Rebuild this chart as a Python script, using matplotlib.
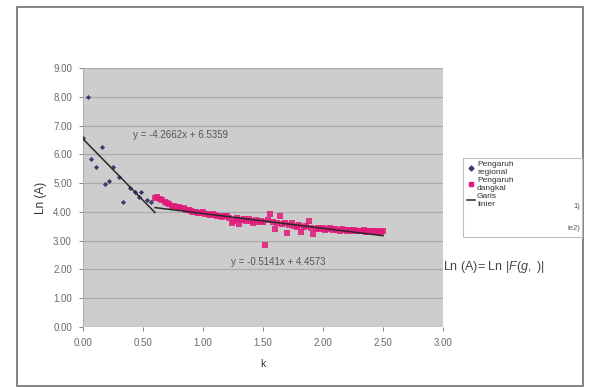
import matplotlib
matplotlib.use('Agg')
import matplotlib.pyplot as plt
from matplotlib.patches import Rectangle
from matplotlib.lines import Line2D
import numpy as np

plt.rcParams['font.family'] = ['Liberation Sans', 'DejaVu Sans']
plt.rcParams['mathtext.fontset'] = 'custom'
plt.rcParams['mathtext.rm'] = 'Liberation Sans'
plt.rcParams['mathtext.it'] = 'Liberation Sans:italic'

# --- data ---
regional_k = [0.00, 0.04, 0.07, 0.11, 0.16, 0.18, 0.22, 0.25, 0.30, 0.33,
              0.39, 0.43, 0.47, 0.48, 0.53, 0.57]
regional_ln = [6.58, 8.00, 5.84, 5.57, 6.27, 4.96, 5.07, 5.57, 5.20, 4.33,
               4.84, 4.70, 4.53, 4.68, 4.41, 4.35]

dangkal_k = [0.60, 0.62, 0.64, 0.66, 0.68, 0.70, 0.72, 0.74, 0.76, 0.78,
             0.80, 0.82, 0.84, 0.86, 0.88, 0.90, 0.92, 0.94, 0.96, 0.98,
             1.00, 1.02, 1.04, 1.06, 1.08, 1.10, 1.12, 1.14, 1.16, 1.18,
             1.20, 1.22, 1.24, 1.26, 1.28, 1.30, 1.32, 1.34, 1.36, 1.38,
             1.40, 1.42, 1.44, 1.46, 1.48, 1.50, 1.52, 1.54, 1.56, 1.58,
             1.60, 1.62, 1.64, 1.66, 1.68, 1.70, 1.72, 1.74, 1.76, 1.78,
             1.80, 1.82, 1.84, 1.86, 1.88, 1.90, 1.92, 1.94, 1.96, 1.98,
             2.00, 2.02, 2.04, 2.06, 2.08, 2.10, 2.12, 2.14, 2.16, 2.18,
             2.20, 2.22, 2.24, 2.26, 2.28, 2.30, 2.32, 2.34, 2.36, 2.38,
             2.40, 2.42, 2.44, 2.46, 2.48, 2.50]
dangkal_ln = [4.48, 4.52, 4.44, 4.40, 4.36, 4.30, 4.27, 4.22, 4.20, 4.18,
              4.16, 4.14, 4.12, 4.08, 4.05, 4.02, 3.98, 4.00, 3.97, 3.95,
              3.98, 3.94, 3.92, 3.90, 3.93, 3.88, 3.85, 3.87, 3.82, 3.84,
              3.86, 3.80, 3.62, 3.70, 3.78, 3.58, 3.72, 3.76, 3.68, 3.74,
              3.70, 3.60, 3.72, 3.66, 3.70, 3.64, 2.85, 3.72, 3.93, 3.66,
              3.39, 3.62, 3.87, 3.58, 3.62, 3.26, 3.55, 3.60, 3.52, 3.48,
              3.54, 3.31, 3.46, 3.50, 3.69, 3.44, 3.22, 3.42, 3.45, 3.40,
              3.43, 3.38, 3.41, 3.44, 3.36, 3.40, 3.38, 3.35, 3.39, 3.36,
              3.33, 3.37, 3.34, 3.36, 3.32, 3.35, 3.33, 3.36, 3.31, 3.34,
              3.32, 3.35, 3.30, 3.33, 3.31, 3.34]

# trend lines: slope, intercept, k range
trend1 = (-4.2662, 6.5359, 0.0, 0.60)
trend2 = (-0.5141, 4.4573, 0.60, 2.50)
trend_labels = ['y = -4.2662x + 6.5359', 'y = -0.5141x + 4.4573']

x_ticks = [0.0, 0.5, 1.0, 1.5, 2.0, 2.5, 3.0]
y_ticks = [0, 1, 2, 3, 4, 5, 6, 7, 8, 9]

W, H = 589, 387
fig = plt.figure(figsize=(W / 100, H / 100), dpi=100)
fig.patch.set_facecolor('white')

# outer chart frame
fig.patches.append(Rectangle((17 / W, 1 - 386 / H), 566 / W, 379 / H,
                             transform=fig.transFigure, fill=False,
                             edgecolor='#7a7a7a', linewidth=1.3))

ax = fig.add_axes([83 / W, 1 - 327 / H, 360 / W, 259 / H])
ax.set_facecolor('#cdcdcd')
ax.set_xlim(0, 3)
ax.set_ylim(0, 9)
ax.set_xticks(x_ticks)
ax.set_yticks(y_ticks)
ax.set_xticklabels(['%.2f' % v for v in x_ticks])
ax.set_yticklabels(['%.2f' % v for v in y_ticks])
ax.tick_params(labelsize=7, colors='#6a6a6a', length=3, width=0.6, pad=5)
ax.grid(axis='y', color='#ababab', linewidth=0.9)
ax.set_axisbelow(True)
for s in ax.spines.values():
    s.set_visible(False)
ax.spines['left'].set_visible(True)
ax.spines['left'].set_color('#b0b0b0')

ax.scatter(dangkal_k, dangkal_ln, marker='s', s=14, color='#e0197a',
           alpha=0.85, linewidths=0, zorder=3)
ax.scatter(regional_k, regional_ln, marker='D', s=7, color='#3c3c6e',
           linewidths=0, zorder=3)

for m, c, k0, k1 in (trend1, trend2):
    xs = np.array([k0, k1])
    ax.plot(xs, m * xs + c, color='#2a2a2a', linewidth=1.1, zorder=4)

ax.text(0.42, 6.66, trend_labels[0], fontsize=7, color='#555555',
        va='center', ha='left')
ax.text(1.23, 2.26, trend_labels[1], fontsize=7, color='#555555',
        va='center', ha='left')

ax.set_xlabel('k', fontsize=7.5, color='#333333', labelpad=8)
ax.set_ylabel('Ln (A)', fontsize=8.5, color='#333333', labelpad=4)

# legend box
fig.patches.append(Rectangle((463 / W, 1 - 237 / H), 119 / W, 79 / H,
                             transform=fig.transFigure, fill=True,
                             facecolor='white', edgecolor='#bdbdbd',
                             linewidth=0.8))
handles = [Line2D([], [], marker='D', color='#3c3c6e', linestyle='none', markersize=2.5),
           Line2D([], [], marker='s', color='#e0197a', linestyle='none', markersize=2.5),
           Line2D([], [], color='#2a2a2a', linewidth=1.1)]
labels = ['Pengaruh\nregional', 'Pengaruh\ndangkal', 'Garis\nlinier']
fig.legend(handles, labels, loc='upper left',
           bbox_to_anchor=(462 / W, 1 - 156 / H), frameon=False,
           fontsize=6, handlelength=1.0, handletextpad=0.2,
           labelspacing=0.1, borderpad=0.1, labelcolor='#333333')
fig.text(577 / W, 1 - 207 / H, '1)', fontsize=5.5, color='#555555',
         ha='center', va='center')
fig.text(574 / W, 1 - 228 / H, 'ie2)', fontsize=5.5, color='#555555',
         ha='center', va='center')

fig.text(443 / W, 1 - 267 / H, r'Ln (A)= Ln |$\it{F(g,}$ )|', fontsize=9,
         color='#444444', ha='left', va='center')

fig.savefig('out.png', dpi=100)
